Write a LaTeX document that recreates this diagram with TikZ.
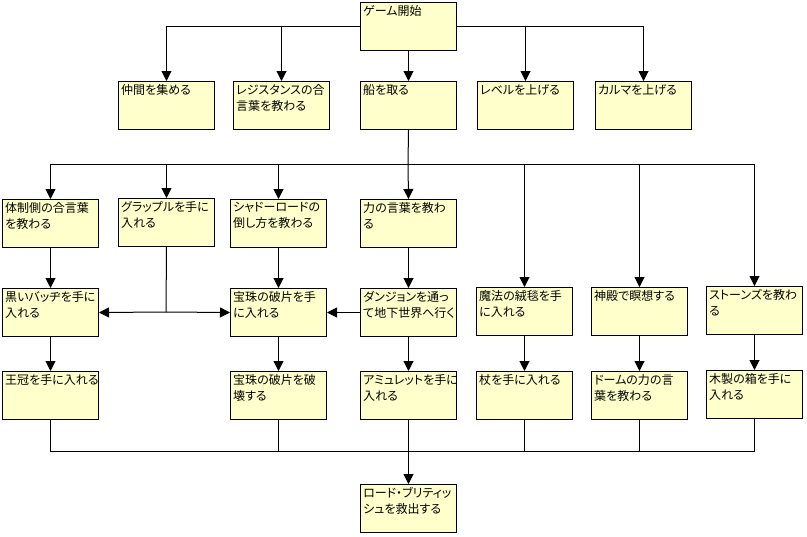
\documentclass[tikz,border=0pt]{standalone}
\usepackage{fontspec}
\usetikzlibrary{arrows.meta}
\newfontfamily\jpfont[RawFeature=+palt]{Noto Sans CJK JP}
\definecolor{boxfill}{HTML}{FFFFCC}
\begin{document}
\begin{tikzpicture}[x=0.75pt,y=-0.75pt,
  box/.style={draw=black,fill=boxfill,line width=0.75pt,anchor=north west,
    minimum width=72pt,minimum height=36pt,inner sep=0pt},
  txt/.style={anchor=north west,inner sep=0pt,xshift=2.2pt,yshift=-2.4pt,
    align=left,font=\jpfont\fontsize{9pt}{12pt}\selectfont},
  conn/.style={line width=0.75pt,draw=black},
  arr/.style={conn,-{Triangle[width=7.5pt,length=7.5pt]}}]
\useasboundingbox (0,0) rectangle (807,536);
% row 1
\node[box,label={[txt]north west:ゲーム開始}] (start) at (360,2) {};
% row 2
\node[box,label={[txt]north west:仲間を集める}] (nakama) at (118,81) {};
\node[box,label={[txt]north west:レジスタンスの合\\言葉を教わる}] (resist) at (233,81) {};
\node[box,label={[txt]north west:船を取る}] (ship) at (360,81) {};
\node[box,label={[txt]north west:レベルを上げる}] (level) at (477,81) {};
\node[box,label={[txt]north west:カルマを上げる}] (karma) at (595,81) {};
% row 3
\node[box,label={[txt]north west:体制側の合言葉\\を教わる}] (taisei) at (2,199) {};
\node[box,label={[txt]north west:グラップルを手に\\入れる}] (grapple) at (118,198) {};
\node[box,label={[txt]north west:シャドーロードの\\倒し方を教わる}] (shadow) at (230,199) {};
\node[box,label={[txt]north west:力の言葉を教わ\\る}] (chikara) at (360,199) {};
% row 4
\node[box,label={[txt]north west:黒いバッヂを手に\\入れる}] (kuroi) at (2,288) {};
\node[box,label={[txt]north west:宝珠の破片を手\\に入れる}] (houju) at (230,288) {};
\node[box,label={[txt]north west:ダンジョンを通っ\\て地下世界へ行く}] (dungeon) at (360,288) {};
\node[box,label={[txt]north west:魔法の絨毯を手\\に入れる}] (mahou) at (476,287) {};
\node[box,label={[txt]north west:神殿で瞑想する}] (shinden) at (591,287) {};
\node[box,label={[txt]north west:ストーンズを教わ\\る}] (stones) at (706,286) {};
% row 5
\node[box,label={[txt]north west:王冠を手に入れる}] (oukan) at (2,371) {};
\node[box,label={[txt]north west:宝珠の破片を破\\壊する}] (hakai) at (230,371) {};
\node[box,label={[txt]north west:アミュレットを手に\\入れる}] (amulet) at (360,371) {};
\node[box,label={[txt]north west:杖を手に入れる}] (tsue) at (476,371) {};
\node[box,label={[txt]north west:ドームの力の言\\葉を教わる}] (dome) at (591,371) {};
\node[box,label={[txt]north west:木製の箱を手に\\入れる}] (kibako) at (706,370) {};
% final
\node[box,label={[txt]north west:ロード・ブリティッ\\シュを救出する}] (lord) at (360,484) {};
% junctions
\coordinate (bus1) at (408,164);
\coordinate (gj) at (166,312);
\coordinate (bus2) at (408,451);
% connectors row1 -> row2
\draw[arr] (start.west) -| (nakama.north);
\draw[arr] (start.west) -| (resist.north);
\draw[arr] (start.south) -- (ship.north);
\draw[arr] (start.east) -| (level.north);
\draw[arr] (start.east) -| (karma.north);
% ship -> bus1
\draw[conn] (ship.south) -- (bus1);
\draw[arr] (bus1) -| (taisei.north);
\draw[arr] (bus1) -| (grapple.north);
\draw[arr] (bus1) -| (shadow.north);
\draw[arr] (bus1) -- (chikara.north);
\draw[arr] (bus1) -| (mahou.north);
\draw[arr] (bus1) -| (shinden.north);
\draw[arr] (bus1) -| (stones.north);
% row3 -> row4
\draw[arr] (taisei.south) -- (kuroi.north);
\draw[arr] (shadow.south) -- (houju.north);
\draw[arr] (chikara.south) -- (dungeon.north);
\draw[conn] (grapple.south) -- (gj);
\draw[arr] (gj) -- (kuroi.east);
\draw[arr] (gj) -- (houju.west);
\draw[arr] (dungeon.west) -- (houju.east);
% row4 -> row5
\draw[arr] (kuroi.south) -- (oukan.north);
\draw[arr] (houju.south) -- (hakai.north);
\draw[arr] (dungeon.south) -- (amulet.north);
\draw[arr] (mahou.south) -- (tsue.north);
\draw[arr] (shinden.south) -- (dome.north);
\draw[arr] (stones.south) -- (kibako.north);
% row5 -> bus2 -> lord
\draw[conn] (oukan.south) |- (bus2);
\draw[conn] (hakai.south) |- (bus2);
\draw[conn] (tsue.south) |- (bus2);
\draw[conn] (dome.south) |- (bus2);
\draw[conn] (kibako.south) |- (bus2);
\draw[arr] (amulet.south) -- (lord.north);
\end{tikzpicture}
\end{document}
